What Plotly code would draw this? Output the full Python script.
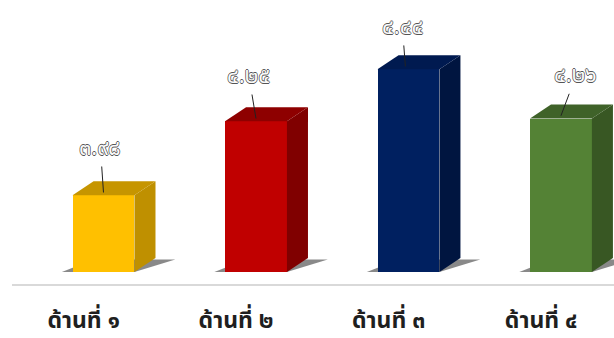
import plotly.graph_objects as go

# Chart data
categories = ["ด้านที่ ๑", "ด้านที่ ๒", "ด้านที่ ๓", "ด้านที่ ๔"]
values = [3.98, 4.25, 4.44, 4.26]
value_labels = ["๓.๙๘", "๔.๒๕", "๔.๔๔", "๔.๒๖"]

front_colors = ["#FFC000", "#C00000", "#002060", "#548235"]
side_colors = ["#BF9000", "#800000", "#001540", "#385723"]
top_colors = ["#C69500", "#8E0000", "#001A50", "#3F6229"]

BASE = 3.7
HALF_W = 0.203      # half bar width (x units)
DEPTH_X = 0.138     # 3-D depth offset (x units)
DEPTH_Y = 0.051     # 3-D depth offset (y units)
LABEL_SHIFT = -0.13  # category labels sit slightly left of the bars

fig = go.Figure()
x_pos = list(range(len(categories)))

# floor shadows, drawn beneath all traces
for i, v in zip(x_pos, values):
    xs = [i - HALF_W - 0.07, i + HALF_W, i + HALF_W + DEPTH_X + 0.13, i - HALF_W + DEPTH_X]
    ys = [BASE, BASE, BASE + DEPTH_Y * 0.9, BASE + DEPTH_Y * 0.9]
    path = "M " + " L ".join(f"{x},{y}" for x, y in zip(xs, ys)) + " Z"
    fig.add_shape(type="path", path=path, xref="x", yref="y", layer="below",
                  fillcolor="rgba(40,40,40,0.55)", line=dict(width=0))

# front faces
fig.add_trace(go.Bar(x=x_pos, y=[v - BASE for v in values], base=BASE,
                     width=2 * HALF_W, marker=dict(color=front_colors, line=dict(width=0)),
                     hoverinfo="skip", showlegend=False))

# side and top faces
for i, v in zip(x_pos, values):
    xr = i + HALF_W
    side_x = [xr, xr + DEPTH_X, xr + DEPTH_X, xr, xr]
    side_y = [BASE, BASE + DEPTH_Y, v + DEPTH_Y, v, BASE]
    fig.add_trace(go.Scatter(x=side_x, y=side_y, fill="toself", mode="lines",
                             line=dict(width=0), fillcolor=side_colors[i],
                             hoverinfo="skip", showlegend=False))
    xl = i - HALF_W
    top_x = [xl, xr, xr + DEPTH_X, xl + DEPTH_X, xl]
    top_y = [v, v, v + DEPTH_Y, v + DEPTH_Y, v]
    fig.add_trace(go.Scatter(x=top_x, y=top_y, fill="toself", mode="lines",
                             line=dict(width=0), fillcolor=top_colors[i],
                             hoverinfo="skip", showlegend=False))

# value labels with leader lines
label_offsets = [(-3, -44), (-7, -42), (-3, -39), (15, -40)]
head_dx = [0.0, 0.0, -0.02, 0.0]
outline = ("0.7px 0 0 #555, -0.7px 0 0 #555, 0 0.7px 0 #555, 0 -0.7px 0 #555")
for i, (v, txt) in enumerate(zip(values, value_labels)):
    ax, ay = label_offsets[i]
    fig.add_annotation(x=i + head_dx[i], y=v + DEPTH_Y * 0.2, text=txt,
                       showarrow=True, arrowhead=0, arrowwidth=1, arrowcolor="#222",
                       ax=ax, ay=ay, standoff=0,
                       font=dict(family="Noto Sans Thai, Noto Serif Thai, Tahoma, sans-serif",
                                 size=22, color="#fafafa", shadow=outline))

fig.update_layout(
    width=614, height=338,
    margin=dict(l=12, r=0, t=0, b=54),
    paper_bgcolor="white", plot_bgcolor="white",
    bargap=0,
    xaxis=dict(range=[-0.6, 3.348], tickvals=[i + LABEL_SHIFT for i in x_pos],
               ticktext=categories, automargin=False,
               showgrid=False, zeroline=False, showline=True, linecolor="#D9D9D9",
               linewidth=2, ticks="", ticklabelstandoff=14,
               tickfont=dict(family="Noto Sans Thai, Tahoma, sans-serif", size=23,
                             color="#1f1f1f", weight="bold")),
    yaxis=dict(range=[BASE - 12 / 274, BASE - 12 / 274 + 284 / 274], visible=False,
               automargin=False),
)

fig.write_html("out.html")
